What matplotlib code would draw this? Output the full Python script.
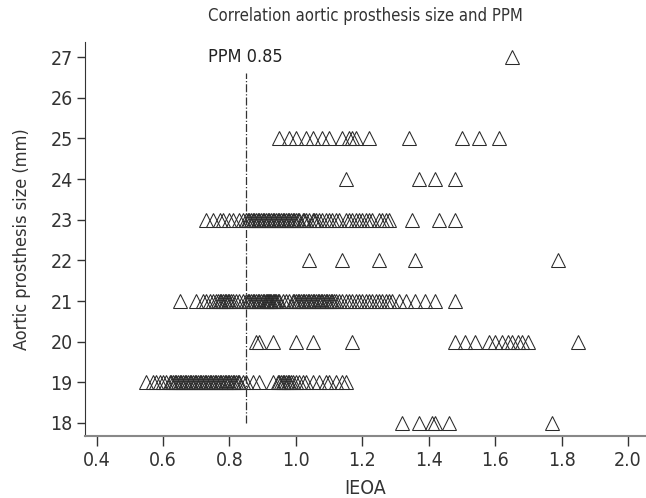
import matplotlib.pyplot as plt

plt.rcParams['font.family'] = ['DejaVu Sans']
plt.rcParams['font.stretch'] = 'condensed'

PPM_CUTOFF = 0.85

# IEOA values per aortic prosthesis size (mm)
ieoa_18 = [1.32, 1.37, 1.41, 1.42, 1.46, 1.77]
ieoa_19 = [0.55, 0.57, 0.58, 0.59, 0.60, 0.61, 0.62, 0.625, 0.63, 0.635, 0.64, 0.645,
           0.65, 0.655, 0.66, 0.665, 0.67, 0.675, 0.68, 0.685, 0.69, 0.695, 0.70,
           0.705, 0.71, 0.715, 0.72, 0.725, 0.73, 0.735, 0.74, 0.745, 0.75, 0.755,
           0.76, 0.765, 0.77, 0.775, 0.78, 0.785, 0.79, 0.795, 0.80, 0.805, 0.81,
           0.815, 0.82, 0.825, 0.83, 0.84, 0.85, 0.87, 0.89, 0.93, 0.945, 0.95,
           0.955, 0.96, 0.965, 0.97, 0.975, 0.98, 0.985, 0.99, 1.00, 1.01, 1.02,
           1.03, 1.05, 1.07, 1.09, 1.10, 1.12, 1.14, 1.15]
ieoa_20 = [0.88, 0.89, 0.93, 1.00, 1.05, 1.17, 1.48, 1.51, 1.54, 1.58, 1.60, 1.62,
           1.64, 1.65, 1.67, 1.68, 1.70, 1.85]
ieoa_21 = [0.65, 0.70, 0.72, 0.73, 0.74, 0.75, 0.76, 0.765, 0.77, 0.775, 0.78, 0.785,
           0.79, 0.795, 0.80, 0.805, 0.81, 0.82, 0.83, 0.84, 0.85, 0.855, 0.86, 0.865,
           0.87, 0.875, 0.88, 0.885, 0.89, 0.895, 0.90, 0.905, 0.91, 0.913, 0.916,
           0.92, 0.923, 0.926, 0.93, 0.933, 0.936, 0.94, 0.945, 0.95, 0.96, 0.97,
           0.98, 0.99, 0.995, 1.00, 1.005, 1.01, 1.015, 1.02, 1.025, 1.03, 1.035,
           1.04, 1.045, 1.05, 1.055, 1.06, 1.065, 1.07, 1.075, 1.08, 1.085, 1.09,
           1.095, 1.10, 1.105, 1.11, 1.115, 1.12, 1.13, 1.14, 1.15, 1.16, 1.17,
           1.18, 1.19, 1.20, 1.21, 1.22, 1.23, 1.24, 1.25, 1.26, 1.27, 1.28, 1.29,
           1.31, 1.33, 1.36, 1.39, 1.42, 1.48]
ieoa_22 = [1.04, 1.14, 1.25, 1.36, 1.79]
ieoa_23 = [0.73, 0.75, 0.77, 0.78, 0.80, 0.81, 0.83, 0.84, 0.85, 0.855, 0.86, 0.865,
           0.87, 0.875, 0.88, 0.885, 0.89, 0.895, 0.90, 0.905, 0.91, 0.915, 0.92,
           0.925, 0.93, 0.935, 0.94, 0.945, 0.95, 0.955, 0.96, 0.965, 0.97, 0.975,
           0.98, 0.985, 0.99, 0.995, 1.00, 1.005, 1.01, 1.02, 1.025, 1.03, 1.04,
           1.05, 1.055, 1.06, 1.07, 1.08, 1.09, 1.10, 1.11, 1.12, 1.13, 1.15, 1.16,
           1.17, 1.18, 1.19, 1.20, 1.21, 1.22, 1.23, 1.25, 1.26, 1.27, 1.28, 1.35,
           1.43, 1.48]
ieoa_24 = [1.15, 1.37, 1.42, 1.48]
ieoa_25 = [0.95, 0.98, 1.00, 1.03, 1.05, 1.08, 1.10, 1.14, 1.16, 1.17, 1.18, 1.22,
           1.34, 1.50, 1.55, 1.61]
ieoa_27 = [1.65]

sizes = [18, 19, 20, 21, 22, 23, 24, 25, 27]
groups = [ieoa_18, ieoa_19, ieoa_20, ieoa_21, ieoa_22, ieoa_23, ieoa_24, ieoa_25, ieoa_27]

fig = plt.figure(figsize=(6.46, 4.98), dpi=100)
ax = fig.add_axes([0.1316, 0.1245, 0.8684, 0.7912])

for size, vals in zip(sizes, groups):
    ax.plot(vals, [size] * len(vals), linestyle='none', marker='^', markersize=10,
            markerfacecolor='none', markeredgecolor='#2a2a2a', markeredgewidth=0.75)

ax.plot([PPM_CUTOFF, PPM_CUTOFF], [18, 26.6], linestyle='-.', color='#333333', linewidth=0.9)
ax.text(0.735, 27, 'PPM 0.85', fontsize=13, va='center', ha='left', color='#222222')

ax.set_xlim(0.365, 2.054)
ax.set_ylim(17.68, 27.37)
ax.set_xticks([0.4, 0.6, 0.8, 1.0, 1.2, 1.4, 1.6, 1.8, 2.0])
ax.set_xticklabels(['0.4', '0.6', '0.8', '1.0', '1.2', '1.4', '1.6', '1.8', '2.0'])
ax.set_yticks(range(18, 28))

ax.spines['right'].set_visible(False)
ax.spines['top'].set_visible(False)
ax.spines['bottom'].set_color('#888888')
ax.spines['bottom'].set_linewidth(1.5)
ax.spines['left'].set_color('#333333')
ax.tick_params(axis='x', length=7, width=1, color='#333333', labelsize=14, pad=4, labelcolor='#333333')
ax.tick_params(axis='y', length=6, width=1, color='#333333', labelsize=14, pad=3, labelcolor='#333333')

ax.set_xlabel('IEOA', fontsize=14, color='#333333', labelpad=6)
ax.set_ylabel('Aortic prosthesis size (mm)', fontsize=13, color='#333333', labelpad=14)
ax.set_title('Correlation aortic prosthesis size and PPM', fontsize=12, color='#333333', pad=15)

plt.savefig('out.png', dpi=100)
